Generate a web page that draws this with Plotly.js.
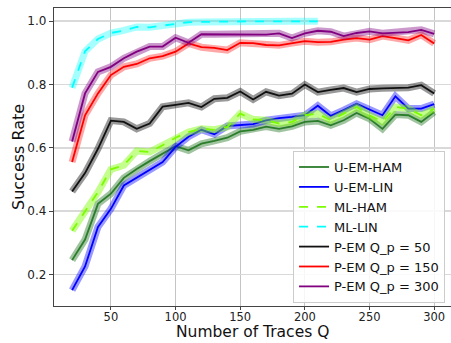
<!DOCTYPE html>
<html>
<head>
<meta charset="utf-8">
<script src="https://cdn.plot.ly/plotly-3.0.1.min.js"></script>
<style>html,body{margin:0;padding:0;background:#fff;}#chart{width:451px;height:343px;}</style>
</head>
<body>
<div id="chart"></div>
<script>
const tracesQ = [20,30,40,50,60,70,80,90,100,110,120,130,140,150,160,170,180,190,200,210,220,230,240,250,260,270,280,290,300];
const tracesQShort = [20,30,40,50,60,70,80,90,100,110,120,130,140,150,160,170,180,190,200,210];
const uemHam = [0.245,0.31,0.423,0.455,0.505,0.533,0.558,0.582,0.605,0.592,0.613,0.622,0.632,0.652,0.657,0.667,0.66,0.668,0.682,0.685,0.671,0.687,0.71,0.692,0.66,0.705,0.703,0.682,0.713];
const uemLin = [0.15,0.225,0.35,0.407,0.481,0.505,0.53,0.555,0.603,0.635,0.657,0.643,0.669,0.671,0.675,0.687,0.694,0.698,0.703,0.733,0.701,0.719,0.739,0.721,0.703,0.763,0.724,0.724,0.738];
const mlHam = [0.338,0.397,0.46,0.532,0.545,0.59,0.587,0.608,0.632,0.65,0.66,0.657,0.666,0.708,0.69,0.687,0.677,0.682,0.703,0.708,0.687,0.708,0.729,0.703,0.682,0.729,0.724,0.703,0.724];
const mlLin = [0.79,0.905,0.944,0.963,0.971,0.982,0.981,0.987,0.992,0.997,0.998,0.999,1.0,1.0,1.0,1.0,1.0,1.0,1.0,1.0];
const pem50 = [0.462,0.52,0.597,0.686,0.682,0.66,0.677,0.73,0.736,0.742,0.729,0.755,0.758,0.778,0.753,0.777,0.765,0.771,0.8,0.776,0.783,0.789,0.776,0.786,0.788,0.788,0.79,0.798,0.772];
const pem150 = [0.555,0.703,0.772,0.83,0.856,0.865,0.883,0.89,0.904,0.93,0.918,0.916,0.909,0.932,0.931,0.925,0.924,0.931,0.937,0.934,0.935,0.942,0.947,0.942,0.953,0.947,0.94,0.957,0.93];
const pem300 = [0.62,0.772,0.84,0.856,0.883,0.904,0.92,0.92,0.948,0.932,0.959,0.959,0.959,0.959,0.959,0.958,0.962,0.947,0.962,0.97,0.967,0.953,0.963,0.968,0.962,0.965,0.966,0.973,0.96];

const seriesNames = ['U-EM-HAM','U-EM-LIN','ML-HAM','ML-LIN','P-EM Q_p = 50','P-EM Q_p = 150','P-EM Q_p = 300'];
const seriesX = [tracesQ,tracesQ,tracesQ,tracesQShort,tracesQ,tracesQ,tracesQ];
const seriesY = [uemHam,uemLin,mlHam,mlLin,pem50,pem150,pem300];
const xTickVals = [50,100,150,200,250,300];
const yTickVals = [0.2,0.4,0.6,0.8,1.0];
const yTickText = ['0.2','0.4','0.6','0.8','1.0'];

const seriesColors = ['#2b7d2b','#0000ff','#7cfc00','#00ffff','#111111','#ff0000','#800080'];
const bandColors = ['rgba(43,125,43,0.45)','rgba(0,0,255,0.4)','rgba(124,252,0,0.45)','rgba(0,255,255,0.35)','rgba(0,0,0,0.4)','rgba(255,0,0,0.35)','rgba(128,0,128,0.4)'];
const seriesDash = ['solid','solid','dash','dash','solid','solid','solid'];

const data = [];
for (let i = 0; i < seriesNames.length; i++) {
  data.push({x: seriesX[i], y: seriesY[i], type: 'scatter', mode: 'lines', showlegend: false, hoverinfo: 'skip',
    line: {color: bandColors[i], width: 7}});
  data.push({x: seriesX[i], y: seriesY[i], type: 'scatter', mode: 'lines', name: seriesNames[i],
    line: {color: seriesColors[i], width: 1.8, dash: seriesDash[i]}});
}

const layout = {
  width: 451, height: 343,
  margin: {l: 54, r: 0, t: 8, b: 37},
  paper_bgcolor: '#fff', plot_bgcolor: '#fff',
  font: {family: 'DejaVu Sans', color: '#222'},
  xaxis: {
    range: [6, 313], tickvals: xTickVals, ticktext: xTickVals.map(String),
    showgrid: true, gridcolor: '#c4c4c4', gridwidth: 1, zeroline: false,
    showline: true, linecolor: '#444', linewidth: 1.2, mirror: true,
    ticks: 'outside', ticklen: 3, tickcolor: '#444', ticklabelstandoff: -3,
    tickfont: {size: 11.5, color: '#222'}
  },
  yaxis: {
    range: [0.1, 1.042], tickvals: yTickVals, ticktext: yTickText,
    showgrid: true, gridcolor: '#d9d9d9', gridwidth: 1.6, zeroline: false,
    showline: true, linecolor: '#444', linewidth: 1.2, mirror: true,
    ticks: 'outside', ticklen: 4, tickcolor: '#444', tickfont: {size: 12, color: '#222'}
  },
  annotations: [
    {text: 'Number of Traces Q', xref: 'paper', yref: 'paper', x: 0.5, y: -0.1242, xanchor: 'center', yanchor: 'bottom',
     showarrow: false, font: {size: 15.5, color: '#111', family: 'DejaVu Sans'}},
    {text: 'Success Rate', xref: 'paper', yref: 'paper', x: -0.0907, y: 0.5, xanchor: 'center', yanchor: 'middle',
     textangle: -90, showarrow: false, font: {size: 16, color: '#111', family: 'DejaVu Sans'}}
  ],
  legend: {
    x: 0.985, xanchor: 'right', y: 0.52, yanchor: 'top',
    bgcolor: 'rgba(255,255,255,0.85)', bordercolor: '#cccccc', borderwidth: 1,
    font: {size: 13, family: 'DejaVu Sans', color: '#111'}
  }
};

Plotly.newPlot('chart', data, layout, {staticPlot: true, displayModeBar: false});
</script>
</body>
</html>
